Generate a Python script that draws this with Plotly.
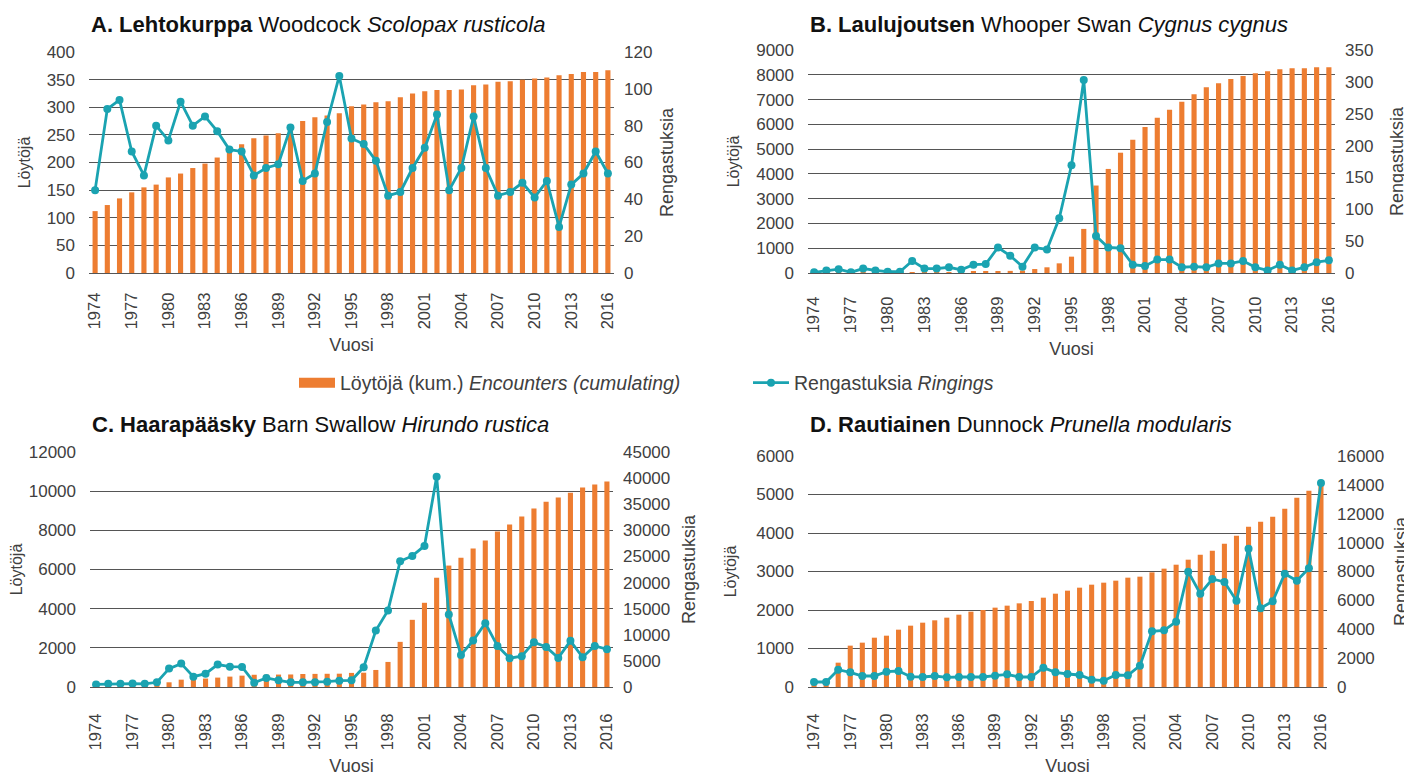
import plotly.graph_objects as go

# years 1974-2016, one bar and one point per year
years = list(range(1974, 2017))
tick_years = [1974, 1977, 1980, 1983, 1986, 1989, 1992, 1995, 1998, 2001, 2004, 2007, 2010, 2013, 2016]

# A. Woodcock
a_enc = [112, 123, 135, 146, 155, 160, 173, 180, 190, 198,
         209, 220, 233, 244, 249, 253, 264, 275, 282, 285,
         289, 302, 305, 309, 311, 318, 325, 329, 331, 331,
         332, 340, 341, 346, 347, 350, 352, 354, 358, 360,
         364, 364, 367]
a_ring = [45, 89, 94, 66, 53, 80, 72, 93, 80, 85,
          77, 67, 66, 53, 57, 59, 79, 50, 54, 82,
          107, 73, 70, 61, 42, 44, 57, 68, 86, 45,
          57, 85, 57, 42, 44, 49, 41, 50, 25, 48,
          54, 66, 54]

# B. Whooper Swan
b_enc = [5, 8, 10, 12, 14, 16, 18, 20, 25, 30,
         35, 40, 45, 55, 65, 75, 85, 100, 160, 230,
         390, 660, 1780, 3530, 4200, 4855, 5380, 5890, 6265, 6585,
         6910, 7215, 7500, 7660, 7830, 7955, 8060, 8140, 8220, 8260,
         8260, 8300, 8300]
b_ring = [1, 4, 6, 1, 7, 4, 2, 2, 19, 7,
          7, 9, 5, 13, 14, 40, 27, 10, 40, 37,
          86, 169, 303, 58, 40, 39, 13, 11, 21, 21,
          9, 10, 9, 15, 15, 19, 9, 4, 13, 4,
          9, 17, 20]

# C. Barn Swallow
c_enc = [50, 60, 70, 80, 90, 120, 240, 375, 420, 430,
         480, 530, 580, 625, 630, 635, 640, 665, 670, 675,
         680, 720, 730, 870, 1280, 2305, 3430, 4300, 5580, 6200,
         6605, 7070, 7475, 7940, 8295, 8705, 9115, 9455, 9680, 9920,
         10190, 10345, 10500]
c_ring = [500, 600, 600, 650, 600, 900, 3520, 4480, 1980, 2560,
          4290, 3900, 3840, 830, 1730, 1280, 900, 900, 900, 1020,
          1220, 1280, 3780, 10820, 14660, 24070, 25100, 27020, 40270, 13890,
          6150, 8900, 12230, 7870, 5510, 5890, 8580, 7680, 5570, 8840,
          5700, 7870, 7230]

# D. Dunnock
d_enc = [90, 120, 632, 1074, 1152, 1281, 1333, 1489, 1593, 1671,
         1732, 1801, 1879, 1957, 2000, 2061, 2113, 2173, 2234, 2320,
         2424, 2502, 2580, 2658, 2710, 2762, 2840, 2866, 2978, 3074,
         3177, 3307, 3437, 3541, 3723, 3931, 4165, 4294, 4424, 4632,
         4918, 5100, 5255]
d_ring = [346, 346, 1200, 1016, 762, 762, 1062, 1108, 716, 693,
          762, 670, 693, 693, 693, 785, 877, 693, 693, 1339,
          1016, 900, 831, 508, 439, 831, 808, 1478, 3856, 3925,
          4525, 7989, 6465, 7481, 7273, 5980, 9582, 5449, 5934, 7850,
          7365, 8220, 14130]

titles = ["<b>A. Lehtokurppa</b> Woodcock <i>Scolopax rusticola</i>",
          "<b>B. Laulujoutsen</b> Whooper Swan <i>Cygnus cygnus</i>",
          "<b>C. Haarapääsky</b> Barn Swallow <i>Hirundo rustica</i>",
          "<b>D. Rautiainen</b> Dunnock <i>Prunella modularis</i>"]
left_max = [400, 9000, 12000, 6000]
left_step = [50, 1000, 2000, 1000]
right_max = [120, 350, 45000, 16000]
right_step = [20, 50, 5000, 2000]

W, H = 1412, 776
OFF = 8  # page body margin
# plot boxes in screen pixels: left, right, top, bottom
boxes = [(89, 614, 52, 273), (808, 1335, 50, 273),
         (90, 613, 452, 687), (808, 1327, 456, 687)]
title_y = [24, 24, 424, 424]
x_label_pad = [12, 16, 19, 19]
left_title_pad = [12, 12, 3, 15]
right_title_pad = [9, 18, 13, 11]


def px_x(p):
    return (p - OFF) / W


def px_y(p):
    return 1 - (p - OFF) / H


ORANGE = "#ED7D31"
TEAL = "#1AA3B1"
TXT = "#404040"
FONT = "Liberation Sans, Arial, sans-serif"

enc_data = [a_enc, b_enc, c_enc, d_enc]
ring_data = [a_ring, b_ring, c_ring, d_ring]

fig = go.Figure()
layout = {}
annotations = []

# legend-only entry so the swatch is a wide rectangle like the original
fig.add_trace(go.Scatter(
    x=[None], y=[None], mode="lines", line=dict(color=ORANGE, width=10),
    name="Löytöjä (kum.) <i>Encounters (cumulating)</i>", showlegend=True))

for i in range(4):
    n = i + 1
    xa = "x" if n == 1 else f"x{n}"
    yl = "y" if n == 1 else f"y{n}"
    yr = f"y{n + 4}"
    l, r, t, b = boxes[i]
    xdom = [px_x(l), px_x(r)]
    ydom = [px_y(b), px_y(t)]

    fig.add_trace(go.Bar(
        x=years, y=enc_data[i], xaxis=xa, yaxis=yl, width=0.42,
        marker=dict(color=ORANGE, line=dict(width=0)),
        name="Löytöjä (kum.)", showlegend=False))
    fig.add_trace(go.Scatter(
        x=years, y=ring_data[i], xaxis=xa, yaxis=yr, mode="lines+markers",
        line=dict(color=TEAL, width=2.8), marker=dict(color=TEAL, size=8),
        name="Rengastuksia <i>Ringings</i>",
        showlegend=(i == 0)))

    xkey = "xaxis" if n == 1 else f"xaxis{n}"
    ylkey = "yaxis" if n == 1 else f"yaxis{n}"
    yrkey = f"yaxis{n + 4}"

    layout[xkey] = dict(
        domain=xdom, anchor=yl, range=[1973.5, 2016.5], automargin=False,
        tickmode="array", tickvals=tick_years, ticktext=[str(v) for v in tick_years],
        tickangle=-90, showgrid=False, zeroline=False,
        showline=True, linecolor="#555555", linewidth=1,
        ticks="", ticklabelstandoff=x_label_pad[i],
        tickfont=dict(size=16.5, color=TXT, family=FONT),
        title=dict(text="Vuosi", font=dict(size=18, color=TXT, family=FONT), standoff=10))
    layout[ylkey] = dict(
        domain=ydom, anchor=xa, range=[0, left_max[i]], automargin=False,
        tick0=0, dtick=left_step[i], tickformat="d",
        showgrid=True, gridcolor="#555555", gridwidth=1,
        zeroline=False, showline=False, ticks="", ticklabelstandoff=13,
        tickfont=dict(size=17, color=TXT, family=FONT),
        title=dict(text="Löytöjä", font=dict(size=16, color=TXT, family=FONT),
                   standoff=left_title_pad[i]))
    layout[yrkey] = dict(
        overlaying=yl, side="right", anchor=xa, range=[0, right_max[i]], automargin=False,
        tick0=0, dtick=right_step[i], tickformat="d", showgrid=False, zeroline=False,
        showline=False, ticks="", ticklabelstandoff=9,
        tickfont=dict(size=17, color=TXT, family=FONT),
        title=dict(text="Rengastuksia", font=dict(size=18, color=TXT, family=FONT),
                   standoff=right_title_pad[i]))

    annotations.append(dict(
        text=titles[i], xref="paper", yref="paper", x=px_x(l), y=px_y(title_y[i]),
        xanchor="left", yanchor="middle", showarrow=False,
        font=dict(size=22, color="#111111", family=FONT)))

fig.update_layout(
    **layout,
    annotations=annotations,
    width=W, height=H,
    margin=dict(l=0, r=0, t=0, b=0, autoexpand=False),
    paper_bgcolor="white", plot_bgcolor="white",
    font=dict(family=FONT, color=TXT),
    legend=dict(orientation="h", x=px_x(294), y=px_y(383), xanchor="left", yanchor="middle",
                entrywidth=403, entrywidthmode="pixels", itemwidth=36,
                font=dict(size=19.5, color=TXT, family=FONT), bgcolor="rgba(0,0,0,0)"),
)

fig.write_html("out.html")
